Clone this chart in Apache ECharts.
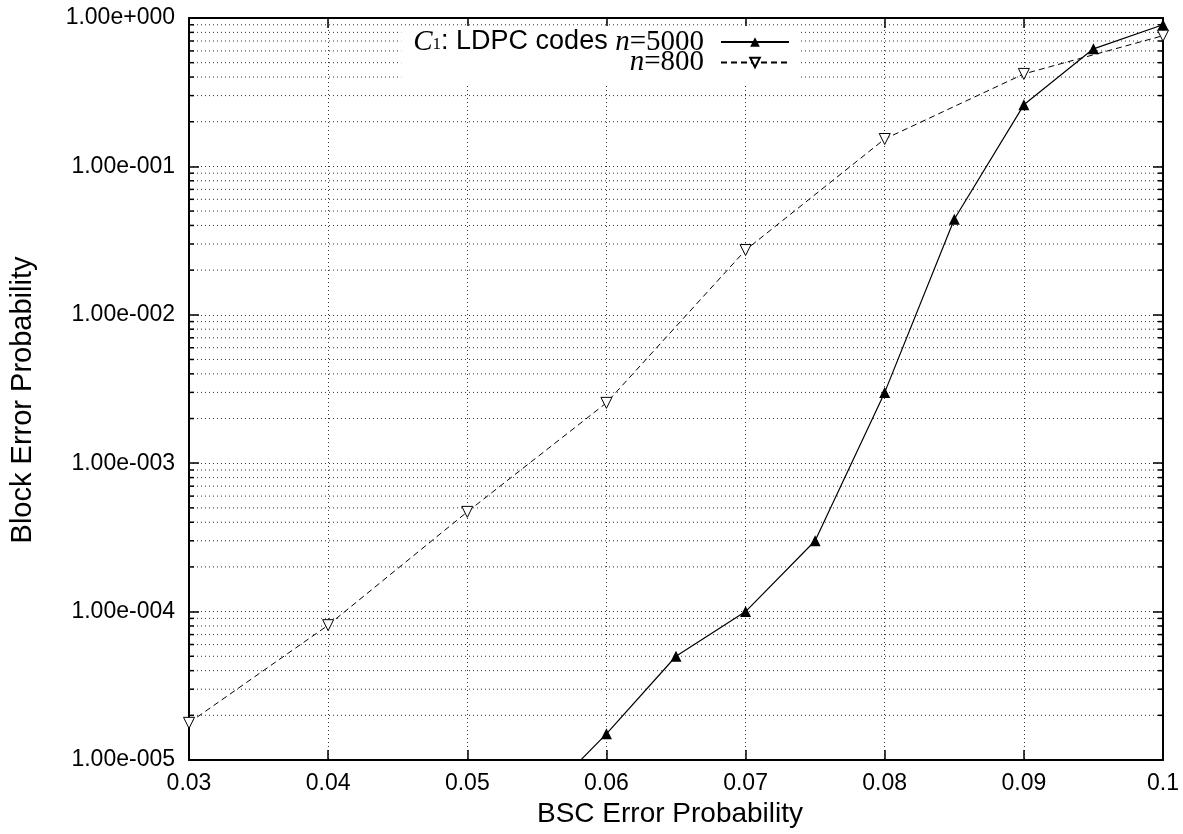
<!DOCTYPE html>
<html>
<head>
<meta charset="utf-8">
<script src="https://cdn.jsdelivr.net/npm/echarts@6/dist/echarts.min.js"></script>
<style>
  html, body { margin: 0; padding: 0; background: #fff; }
  #chart { width: 1183px; height: 834px; }
</style>
</head>
<body>
<div id="chart"></div>
<script>
// BSC error probability (x)
const bscN5000 = [0.055, 0.06, 0.065, 0.07, 0.075, 0.08, 0.085, 0.09, 0.095, 0.1];
const blockN5000 = [5.0e-6, 1.5e-5, 5.0e-5, 1.0e-4, 3.0e-4, 3.0e-3, 4.4e-2, 0.26, 0.62, 0.90];

const bscN800 = [0.03, 0.04, 0.05, 0.06, 0.07, 0.08, 0.09, 0.1];
const blockN800 = [1.78e-5, 8.1e-5, 4.7e-4, 2.55e-3, 2.73e-2, 0.153, 0.42, 0.76];

const yTickLabels = ['1.00e-005', '1.00e-004', '1.00e-003', '1.00e-002', '1.00e-001', '1.00e+000'];
const yMinorSteps = [2, 3, 4, 5, 6, 7, 8, 9];
const yDecades = [1e-5, 1e-4, 1e-3, 1e-2, 1e-1];

const X_MIN = 0.03, X_MAX = 0.1;
const Y_MIN = 1e-5, Y_MAX = 1;

const yMinor = [];
yDecades.forEach(d => yMinorSteps.forEach(s => yMinor.push(d * s)));

const sans = 'Liberation Sans';
const serif = 'Liberation Serif';
const gridDot = { color: '#333', width: 1, type: [1, 3] };

function yLabel(v) {
    const e = Math.round(Math.log10(v));
    return yTickLabels[e + 5] || '';
}

const chart = echarts.init(document.getElementById('chart'));

const option = {
    animation: false,
    backgroundColor: '#fff',
    grid: { left: 189, right: 20, top: 18, bottom: 74, containLabel: false },
    xAxis: [{
        type: 'value',
        min: X_MIN, max: X_MAX, interval: 0.01,
        name: 'BSC Error Probability',
        nameLocation: 'middle',
        nameGap: 40,
        nameTextStyle: { fontFamily: sans, fontSize: 28, color: '#000', padding: [0, 12, 0, 0] },
        axisLine: { lineStyle: { color: '#000', width: 2 } },
        axisTick: { inside: true, length: 10, lineStyle: { color: '#000', width: 1.5 } },
        axisLabel: { fontFamily: sans, fontSize: 23, color: '#000', margin: 12,
            formatter: v => String(+v.toFixed(2)) },
        splitLine: { show: true, lineStyle: gridDot }
    }, {
        type: 'value', position: 'top',
        min: X_MIN, max: X_MAX, interval: 0.01,
        axisLine: { lineStyle: { color: '#000', width: 2 } },
        axisTick: { inside: true, length: 10, lineStyle: { color: '#000', width: 1.5 } },
        axisLabel: { show: false },
        splitLine: { show: false }
    }],
    yAxis: [{
        type: 'log', logBase: 10,
        min: Y_MIN, max: Y_MAX,
        name: 'Block Error Probability',
        nameLocation: 'middle',
        nameGap: 152,
        nameTextStyle: { fontFamily: sans, fontSize: 29, color: '#000', padding: [0, 22, 0, 0] },
        axisLine: { lineStyle: { color: '#000', width: 2 } },
        axisTick: { inside: true, length: 10, lineStyle: { color: '#000', width: 1.5 } },
        axisLabel: { fontFamily: sans, fontSize: 23, color: '#000', margin: 14, formatter: yLabel },
        splitLine: { show: true, lineStyle: gridDot }
    }, {
        type: 'log', logBase: 10, position: 'right',
        min: Y_MIN, max: Y_MAX,
        axisLine: { lineStyle: { color: '#000', width: 2 } },
        axisTick: { inside: true, length: 10, lineStyle: { color: '#000', width: 1.5 } },
        axisLabel: { show: false },
        splitLine: { show: false }
    }],
    legend: [{
        data: ['n5000'],
        right: 383, top: 26,
        padding: [0, 10, 28, 12],
        backgroundColor: '#fff',
        align: 'right',
        itemWidth: 68, itemHeight: 12,
        symbolRotate: 'inherit',
        textStyle: {
            padding: [0, 12, 0, 0],
            rich: {
                ci: { fontFamily: serif, fontStyle: 'italic', fontSize: 29, color: '#000', lineHeight: 22 },
                sub: { fontFamily: serif, fontSize: 17, color: '#000', verticalAlign: 'bottom', padding: [10, 0, 0, 0], lineHeight: 22 },
                sa: { fontFamily: sans, fontSize: 27, color: '#000', lineHeight: 22 },
                ni: { fontFamily: serif, fontStyle: 'italic', fontSize: 29, color: '#000', lineHeight: 22 },
                se: { fontFamily: serif, fontSize: 29, color: '#000', lineHeight: 22 }
            }
        },
        formatter: () => '{ci|C}{sub|1}{sa|: LDPC codes }{ni|n}{se|=5000}'
    }, {
        data: ['n800'],
        right: 383, top: 48, z: 5,
        padding: [0, 10, 0, 12],
        align: 'right',
        itemWidth: 68, itemHeight: 12,
        symbolRotate: 'inherit',
        textStyle: {
            padding: [0, 12, 0, 0],
            rich: {
                ni: { fontFamily: serif, fontStyle: 'italic', fontSize: 29, color: '#000', lineHeight: 22 },
                se: { fontFamily: serif, fontSize: 29, color: '#000', lineHeight: 22 }
            }
        },
        formatter: () => '{ni|n}{se|=800}'
    }],
    series: [{
        // minor log grid lines and minor ticks on both sides
        type: 'custom',
        silent: true,
        z: 1,
        clip: true,
        data: yMinor.map(v => [X_MIN, v]),
        renderItem: (params, api) => {
            const cs = params.coordSys;
            const y = api.coord([X_MIN, api.value(1)])[1];
            return {
                type: 'group',
                children: [{
                    type: 'line',
                    shape: { x1: cs.x, y1: y, x2: cs.x + cs.width, y2: y },
                    style: { stroke: '#333', lineWidth: 1, lineDash: [1, 3] }
                }, {
                    type: 'line',
                    shape: { x1: cs.x, y1: y, x2: cs.x + 5, y2: y },
                    style: { stroke: '#000', lineWidth: 1.5 }
                }, {
                    type: 'line',
                    shape: { x1: cs.x + cs.width - 5, y1: y, x2: cs.x + cs.width, y2: y },
                    style: { stroke: '#000', lineWidth: 1.5 }
                }]
            };
        }
    }, {
        name: 'n5000',
        type: 'line',
        z: 4,
        clip: true,
        data: bscN5000.map((x, i) => [x, blockN5000[i]]),
        symbol: 'triangle',
        symbolSize: 11,
        itemStyle: { color: '#000' },
        lineStyle: { color: '#000', width: 1.2, type: 'solid' }
    }, {
        name: 'n800',
        type: 'line',
        z: 4,
        clip: true,
        data: bscN800.map((x, i) => [x, blockN800[i]]),
        symbol: 'triangle',
        symbolRotate: 180,
        symbolSize: 11,
        itemStyle: { color: '#fff', borderColor: '#000', borderWidth: 1 },
        lineStyle: { color: '#000', width: 1, type: [6, 4] }
    }]
};

chart.setOption(option);
</script>
</body>
</html>
